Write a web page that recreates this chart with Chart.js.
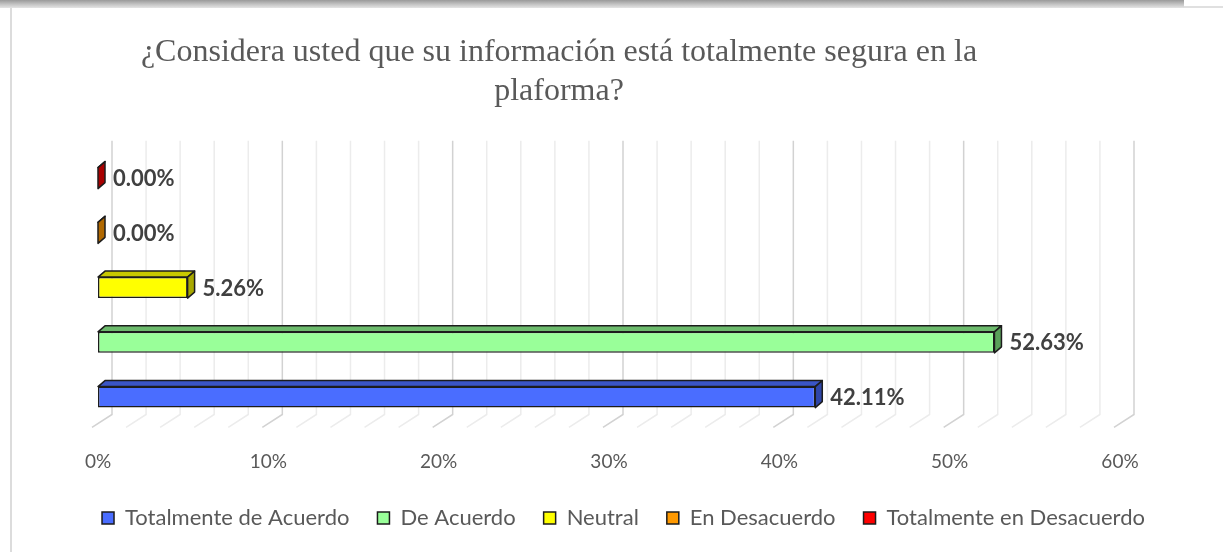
<!DOCTYPE html>
<html>
<head>
<meta charset="utf-8">
<script src="https://cdn.jsdelivr.net/npm/chart.js@4.4.1/dist/chart.umd.min.js"></script>
<style>
  html, body { margin: 0; padding: 0; background: #ffffff; }
  #wrap { position: relative; width: 1223px; height: 552px; overflow: hidden; }
  #topband { position: absolute; left: 0; top: 0; width: 1184px; height: 8px;
    background: linear-gradient(#9a9a9a, #c8c8c8 60%, #e4e4e4); }
  #topright { position: absolute; left: 1184px; top: 6px; width: 39px; height: 2px; background: #e0e0e0; }
  #leftline { position: absolute; left: 10px; top: 8px; width: 2px; height: 544px; background: #dcdcdc; }
  canvas { position: absolute; left: 0; top: 0; }
</style>
</head>
<body>
<div id="wrap">
  <canvas id="c" width="1223" height="552"></canvas>
  <div id="topband"></div>
  <div id="topright"></div>
  <div id="leftline"></div>
</div>
<script>
// ---- data ----
const titleLines = ['¿Considera usted que su información está totalmente segura en la', 'plaforma?'];
const categories = ['Totalmente de Acuerdo', 'De Acuerdo', 'Neutral', 'En Desacuerdo', 'Totalmente en Desacuerdo'];
const values = [42.11, 52.63, 5.26, 0.00, 0.00];
const tickLabels = ['0%', '10%', '20%', '30%', '40%', '50%', '60%'];
const frontColors = ['#4a6dff', '#99ff99', '#ffff00', '#ff9900', '#ff0000'];
const topColors   = ['#3a55c6', '#6cba6c', '#c8c800', '#c47a00', '#c40000'];
const sideColors  = ['#2f46a8', '#5aa05a', '#a8a800', '#b06800', '#a80000'];

// Datasets listed top-to-bottom (reverse of legend order)
const order = [4, 3, 2, 1, 0];
const datasets = order.map(i => ({
  label: categories[i],
  data: [values[i]],
  backgroundColor: frontColors[i],
  topColor: topColors[i],
  sideColor: sideColors[i],
  borderColor: '#1c1c1c',
  borderWidth: 1.5,
  borderSkipped: false,
  categoryPercentage: 0.874,
  barPercentage: 0.384
}));

const DX = 7, DY = -6;

function bandOf(chart) {
  const n = chart.data.datasets.length;
  const yFirst = chart.getDatasetMeta(0).data[0].y;
  const yLast = chart.getDatasetMeta(n - 1).data[0].y;
  const chunk = (yLast - yFirst) / (n - 1);
  return { top: yFirst - chunk / 2, bottom: yLast + chunk / 2 };
}

const gridPlugin = {
  id: 'grid3d',
  beforeDatasetsDraw(chart) {
    const { ctx, scales: { x } } = chart;
    const band = bandOf(chart);
    ctx.save();
    for (let v = 0; v <= 60; v += 2) {
      const xb = x.getPixelForValue(v) + 14;
      const major = v % 10 === 0;
      ctx.strokeStyle = major ? '#d2d2d2' : '#ececec';
      ctx.lineWidth = 1.5;
      ctx.beginPath();
      ctx.moveTo(xb, band.top - 10);
      ctx.lineTo(xb, band.bottom - 10);
      ctx.lineTo(xb - 20, band.bottom + 3);
      ctx.stroke();
    }
    ctx.restore();
  }
};

const bar3dPlugin = {
  id: 'bar3d',
  afterDatasetsDraw(chart) {
    const ctx = chart.ctx;
    ctx.save();
    chart.data.datasets.forEach((ds, di) => {
      const meta = chart.getDatasetMeta(di);
      meta.data.forEach((el) => {
        const h = el.height;
        const left = Math.min(el.base, el.x), right = Math.max(el.base, el.x);
        const top = el.y - h / 2, bottom = el.y + h / 2;
        ctx.lineWidth = 1.5;
        ctx.strokeStyle = '#1c1c1c';
        ctx.lineJoin = 'round';
        // top face
        ctx.fillStyle = ds.topColor;
        ctx.beginPath();
        ctx.moveTo(left, top);
        ctx.lineTo(left + DX, top + DY);
        ctx.lineTo(right + DX, top + DY);
        ctx.lineTo(right, top);
        ctx.closePath();
        ctx.fill(); ctx.stroke();
        // side face
        ctx.fillStyle = ds.sideColor;
        ctx.beginPath();
        ctx.moveTo(right, top);
        ctx.lineTo(right + DX, top + DY);
        ctx.lineTo(right + DX, bottom + DY);
        ctx.lineTo(right, bottom);
        ctx.closePath();
        ctx.fill(); ctx.stroke();
        // data label
        const val = ds.data[0];
        ctx.fillStyle = '#404040';
        ctx.font = 'bold 22px Lato';
        ctx.textBaseline = 'middle';
        ctx.textAlign = 'left';
        ctx.fillText(val.toFixed(2) + '%', right + DX + 8, el.y + 1);
      });
    });
    ctx.restore();
  }
};

const titlePlugin = {
  id: 'title2',
  afterDraw(chart) {
    const ctx = chart.ctx;
    ctx.save();
    ctx.fillStyle = '#595959';
    ctx.font = '32px "Liberation Serif"';
    ctx.textAlign = 'center';
    ctx.textBaseline = 'alphabetic';
    ctx.fillText(titleLines[0], 559, 61);
    ctx.fillText(titleLines[1], 559, 100);
    ctx.restore();
  }
};

new Chart(document.getElementById('c'), {
  type: 'bar',
  data: { labels: [''], datasets },
  options: {
    responsive: false,
    animation: false,
    indexAxis: 'y',
    layout: { padding: { left: 24, right: 0, top: 131, bottom: 13 } },
    scales: {
      x: {
        min: 0, max: 60,
        grid: { display: false, drawTicks: false },
        border: { display: false },
        ticks: {
          stepSize: 10,
          padding: 6,
          color: '#595959',
          font: { family: 'Lato', size: 19 },
          callback: (v) => tickLabels[Math.round(v / 10)]
        }
      },
      y: {
        display: true,
        grid: { display: false, drawTicks: false },
        border: { display: false },
        ticks: { display: false },
        afterFit: (s) => { s.width = 74; }
      },
      yR: {
        type: 'linear',
        position: 'right',
        display: true,
        grid: { display: false, drawTicks: false },
        border: { display: false },
        ticks: { display: false },
        afterFit: (s) => { s.width = 103; }
      }
    },
    plugins: {
      legend: {
        position: 'bottom',
        reverse: true,
        labels: {
          boxWidth: 12, boxHeight: 12,
          padding: 28,
          color: '#595959',
          font: { family: 'Lato', size: 22 }
        }
      },
      tooltip: { enabled: false },
      title: { display: false }
    }
  },
  plugins: [gridPlugin, bar3dPlugin, titlePlugin]
});
</script>
</body>
</html>
